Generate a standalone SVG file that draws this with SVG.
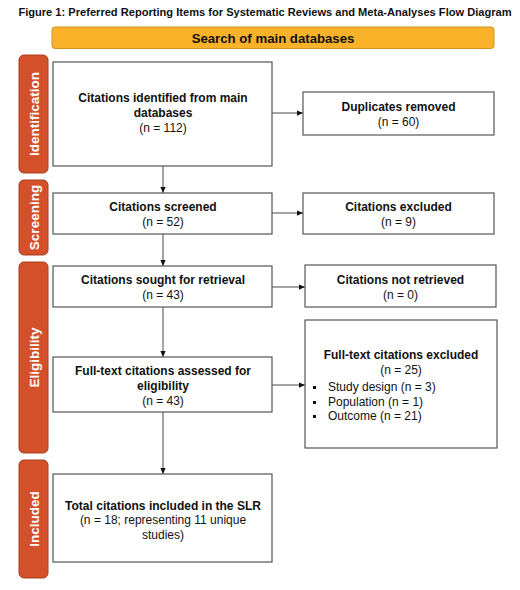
<svg xmlns="http://www.w3.org/2000/svg" width="520" height="590" viewBox="0 0 520 590">
<defs>
<style>
text{font-family:"Liberation Sans",Arial,sans-serif;fill:#111;text-anchor:middle}
.b{font-weight:bold}
.t{font-size:12px}
.box{fill:#fff;stroke:#555;stroke-width:1.2}
.side{fill:#D4502A;stroke:#A8401F;stroke-width:1}
.side-t{fill:#fff;font-weight:bold;font-size:13.5px}
.ln{stroke:#333;stroke-width:0.9;fill:none}
</style>
<marker id="ah" viewBox="0 0 8 8" refX="8" refY="4" markerWidth="6" markerHeight="6" orient="auto" markerUnits="userSpaceOnUse"><path d="M0,0.5 L8,4 L0,7.5z" fill="#111"/></marker>
</defs>
<rect width="520" height="590" fill="#fff"/>
<text id="title" x="265" y="15.5" class="b" style="font-size:11.1px">Figure 1: Preferred Reporting Items for Systematic Reviews and Meta-Analyses Flow Diagram</text>
<g id="search">
<rect x="52" y="27" width="442" height="21.5" rx="3" fill="#FAB22A" stroke="#D0921E" stroke-width="1"/>
<text x="273" y="42.8" class="b" style="font-size:13.2px">Search of main databases</text>
</g>
<g id="side-identification"><rect class="side" x="19" y="55" width="29" height="118" rx="5"/><text class="side-t" transform="translate(38.5,114) rotate(-90)">Identification</text></g>
<g id="side-screening"><rect class="side" x="19" y="180" width="29" height="75" rx="5"/><text class="side-t" transform="translate(38.5,217.5) rotate(-90)">Screening</text></g>
<g id="side-eligibility"><rect class="side" x="19" y="262" width="29" height="191" rx="5"/><text class="side-t" transform="translate(38.5,357.5) rotate(-90)">Eligibility</text></g>
<g id="side-included"><rect class="side" x="19" y="460" width="29" height="118" rx="5"/><text class="side-t" transform="translate(38.5,519) rotate(-90)">Included</text></g>
<g id="connectors">
<line class="ln" x1="163" y1="166" x2="163" y2="193" marker-end="url(#ah)"/>
<line class="ln" x1="163" y1="234" x2="163" y2="266" marker-end="url(#ah)"/>
<line class="ln" x1="163" y1="307" x2="163" y2="357" marker-end="url(#ah)"/>
<line class="ln" x1="163" y1="412" x2="163" y2="474" marker-end="url(#ah)"/>
<line class="ln" x1="272" y1="113" x2="303" y2="113" marker-end="url(#ah)"/>
<line class="ln" x1="272" y1="213" x2="303" y2="213" marker-end="url(#ah)"/>
<line class="ln" x1="272" y1="287" x2="305" y2="287" marker-end="url(#ah)"/>
<line class="ln" x1="272" y1="385" x2="305" y2="385" marker-end="url(#ah)"/>
</g>
<g id="n1"><rect class="box" x="53" y="62" width="219" height="104"/>
<text class="t b" x="163" y="102">Citations identified from main</text>
<text class="t b" x="163" y="117">databases</text>
<text class="t" x="163" y="132">(n = 112)</text></g>
<g id="n2"><rect class="box" x="53" y="193" width="219" height="41"/>
<text class="t b" x="163" y="211">Citations screened</text>
<text class="t" x="163" y="226">(n = 52)</text></g>
<g id="n3"><rect class="box" x="53" y="266" width="219" height="41"/>
<text class="t b" x="163" y="284">Citations sought for retrieval</text>
<text class="t" x="163" y="299">(n = 43)</text></g>
<g id="n4"><rect class="box" x="53" y="357" width="219" height="55"/>
<text class="t b" x="163" y="375">Full-text citations assessed for</text>
<text class="t b" x="163" y="390">eligibility</text>
<text class="t" x="163" y="405">(n = 43)</text></g>
<g id="n5"><rect class="box" x="53" y="474" width="219" height="88"/>
<text class="t b" x="163" y="510">Total citations included in the SLR</text>
<text class="t" x="163" y="524">(n = 18; representing 11 unique</text>
<text class="t" x="163" y="539">studies)</text></g>
<g id="r1"><rect class="box" x="303" y="92" width="191" height="43"/>
<text class="t b" x="398.5" y="111">Duplicates removed</text>
<text class="t" x="398.5" y="126">(n = 60)</text></g>
<g id="r2"><rect class="box" x="303" y="193" width="191" height="41"/>
<text class="t b" x="398.5" y="211">Citations excluded</text>
<text class="t" x="398.5" y="226">(n = 9)</text></g>
<g id="r3"><rect class="box" x="305" y="265" width="191" height="42"/>
<text class="t b" x="400.5" y="284">Citations not retrieved</text>
<text class="t" x="400.5" y="299">(n = 0)</text></g>
<g id="r4"><rect class="box" x="305" y="320" width="192" height="128"/>
<text class="t b" x="401" y="359">Full-text citations excluded</text>
<text class="t" x="401" y="374">(n = 25)</text>
<rect x="313" y="386" width="3" height="3" fill="#111"/><text class="t" x="328" y="391" style="text-anchor:start">Study design (n = 3)</text>
<rect x="313" y="401" width="3" height="3" fill="#111"/><text class="t" x="328" y="406" style="text-anchor:start">Population (n = 1)</text>
<rect x="313" y="415" width="3" height="3" fill="#111"/><text class="t" x="328" y="420" style="text-anchor:start">Outcome (n = 21)</text>
</g>
</svg>
